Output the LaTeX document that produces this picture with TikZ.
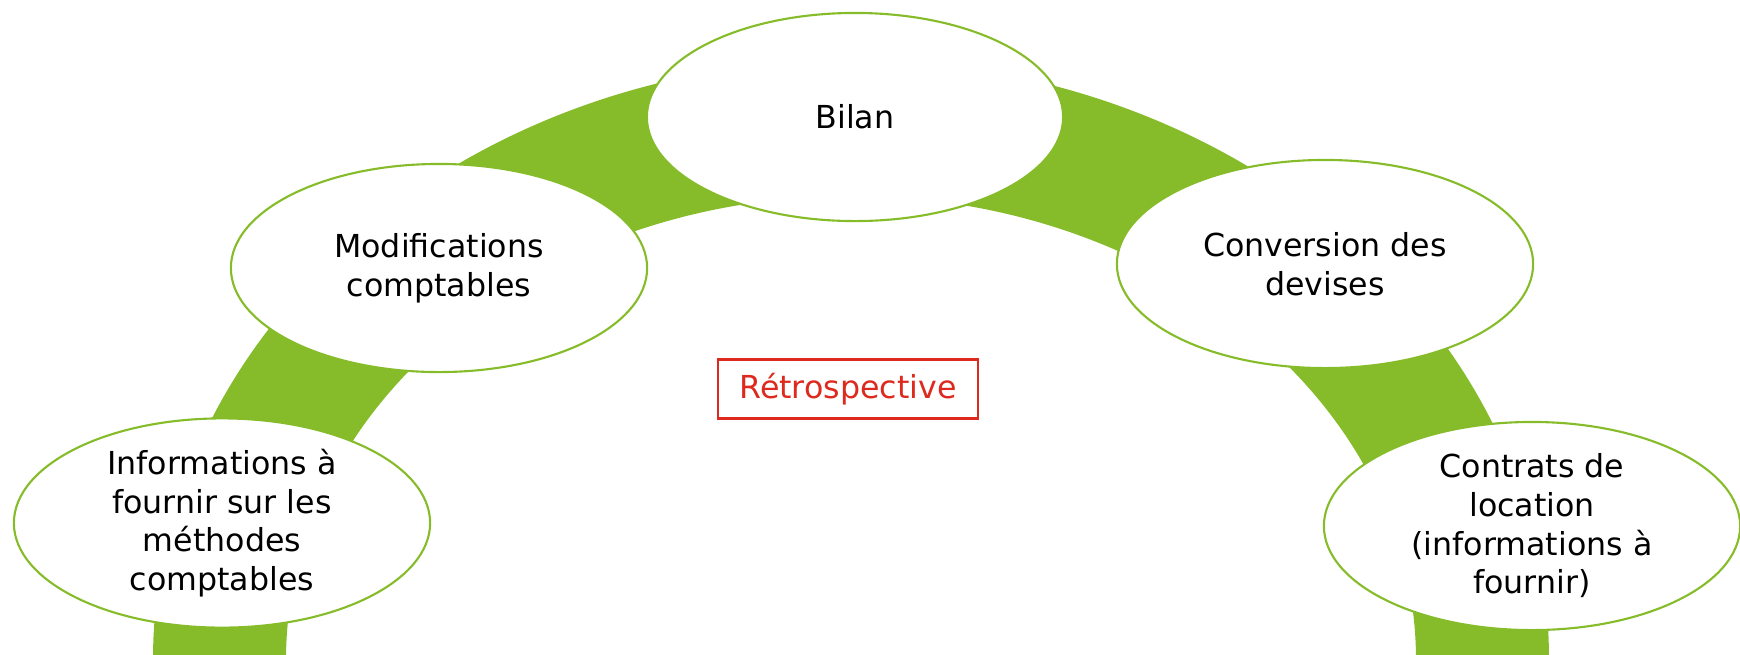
\documentclass[tikz,border=0pt]{standalone}
\usepackage{fontspec}
\setmainfont{DejaVu Sans}
\usetikzlibrary{shapes.geometric}
\definecolor{archgreen}{RGB}{134,188,41}
\definecolor{tagred}{RGB}{222,42,30}
\tikzset{
  topic/.style={ellipse, draw=archgreen, line width=0.6pt, fill=white,
    minimum width=4.16cm, minimum height=2.08cm, inner sep=0pt,
    align=center, font=\fontsize{9}{11}\selectfont, text=black},
  tag/.style={rectangle, draw=tagred, line width=0.6pt, fill=white,
    minimum width=2.60cm, minimum height=0.59cm, inner sep=0pt,
    font=\fontsize{9}{11}\selectfont, text=tagred}
}
\begin{document}
\begin{tikzpicture}[x=0.01cm, y=-0.01cm]
  \useasboundingbox (0,0) rectangle (1740,654);
  % thick arch behind the topics
  \begin{scope}
    \clip (0,0) rectangle (1740,654);
    \fill[archgreen, even odd rule]
      (851,660) ellipse [x radius=698, y radius=600]
      (851,660) ellipse [x radius=565, y radius=464];
  \end{scope}
  % topics along the arch
  \node[topic] (bilan) at (855,117) {Bilan};
  \node[topic] (modif) at (439,268) {Modifications\\comptables};
  \node[topic] (devises) at (1325,264) {Conversion des\\devises};
  \node[topic] (methodes) at (222,523) {Informations à\\fournir sur les\\méthodes\\comptables};
  \node[topic] (location) at (1532,526) {Contrats de\\location\\(informations à\\fournir)};
  % centre label
  \node[tag] (retro) at (848,389) {Rétrospective};
\end{tikzpicture}
\end{document}
